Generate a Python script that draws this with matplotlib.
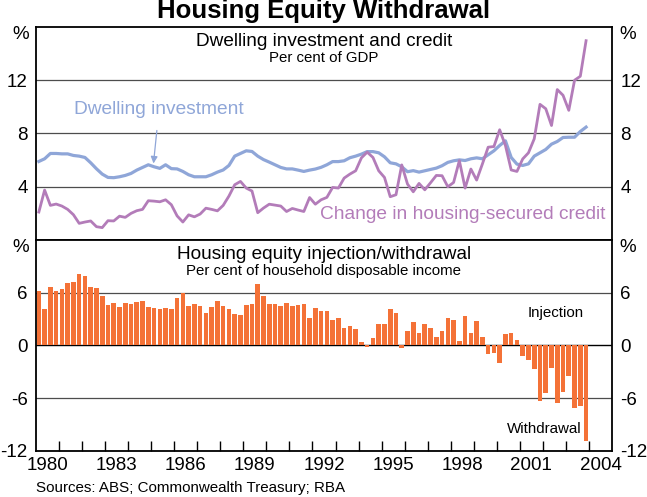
import numpy as np
import matplotlib
matplotlib.use("Agg")
import matplotlib.pyplot as plt
from matplotlib import transforms

plt.rcParams["font.family"] = ["Liberation Sans", "DejaVu Sans"]

# quarterly data, 1980Q1 - 2003Q4
start_year = 1980
n_quarters = 96

dwelling_investment = [
    5.9, 6.1, 6.5, 6.5, 6.47, 6.47, 6.35, 6.3, 6.2, 5.8, 5.35, 4.95,
    4.7, 4.68, 4.75, 4.85, 5.0, 5.25, 5.45, 5.65, 5.5, 5.38, 5.65, 5.36,
    5.34, 5.15, 4.9, 4.75, 4.75, 4.75, 4.9, 5.1, 5.26, 5.6, 6.3, 6.5,
    6.7, 6.65, 6.3, 6.04, 5.85, 5.65, 5.45, 5.34, 5.34, 5.25, 5.15, 5.25,
    5.33, 5.46, 5.65, 5.89, 5.89, 5.95, 6.18, 6.3, 6.45, 6.64, 6.64, 6.55,
    6.25, 5.8, 5.72, 5.5, 5.13, 5.21, 5.1, 5.2, 5.3, 5.4, 5.58, 5.83,
    5.95, 6.02, 5.97, 6.1, 6.17, 6.1, 6.4, 6.7, 7.1, 7.45, 6.2, 5.7,
    5.6, 5.72, 6.3, 6.55, 6.8, 7.2, 7.4, 7.7, 7.72, 7.72, 8.15, 8.48,
]

housing_credit = [
    2.1, 3.75, 2.6, 2.7, 2.55, 2.3, 1.9, 1.25, 1.35, 1.43, 1.0, 0.93,
    1.45, 1.43, 1.79, 1.7, 2.0, 2.2, 2.3, 2.95, 2.92, 2.87, 3.02, 2.65,
    1.81, 1.35, 1.89, 1.74, 1.95, 2.39, 2.3, 2.19, 2.6, 3.3, 4.15, 4.4,
    3.9, 3.68, 2.05, 2.4, 2.69, 2.62, 2.55, 2.14, 2.37, 2.25, 2.14, 3.19,
    2.69, 3.02, 3.2, 3.95, 3.9, 4.65, 4.95, 5.2, 6.17, 6.6, 6.2, 5.2,
    4.7, 3.25, 3.4, 5.64, 4.2, 3.62, 4.25, 3.77, 4.3, 4.85, 4.83, 4.0,
    4.32, 5.96, 3.9, 5.33, 4.5, 5.71, 6.97, 7.02, 8.28, 7.1, 5.26, 5.15,
    6.09, 6.55, 7.6, 10.19, 9.86, 8.6, 11.3, 10.87, 9.74, 12.0, 12.3, 14.97,
]

equity_withdrawal = [
    6.2, 4.1, 6.7, 6.2, 6.45, 7.1, 7.25, 8.15, 7.9, 6.7, 6.55, 5.65,
    4.65, 4.85, 4.4, 4.85, 4.75, 5.0, 5.1, 4.4, 4.3, 4.1, 4.3, 4.2,
    5.4, 6.0, 4.5, 4.75, 4.5, 3.75, 4.4, 5.1, 4.5, 4.1, 3.6, 3.5,
    4.65, 4.75, 7.0, 5.65, 4.75, 4.75, 4.5, 4.85, 4.5, 4.65, 4.75, 3.15,
    4.3, 3.95, 3.95, 2.85, 3.15, 1.95, 2.2, 1.85, 0.35, -0.2, 0.85, 2.4,
    2.5, 4.2, 3.75, -0.3, 1.6, 2.65, 1.4, 2.4, 1.95, 0.95, 1.6, 3.1,
    2.85, 0.5, 3.3, 1.4, 2.75, 0.95, -1.0, -0.85, -2.0, 1.3, 1.45, 0.6,
    -1.2, -1.65, -2.7, -6.3, -5.4, -2.55, -6.5, -5.3, -3.45, -7.1, -6.9, -10.9,
]

year_labels = [1980, 1983, 1986, 1989, 1992, 1995, 1998, 2001, 2004]

BLUE = "#8fa6d8"
PURPLE = "#b37cb9"
ORANGE = "#f47237"
GRID = "#4d4d4d"
TICK_FS = 13.5

x = start_year + np.arange(n_quarters) / 4 + 0.125


def style_panel(ax, ticks, ylim):
    ax.set_xlim(1980, 2005)
    ax.set_ylim(*ylim)
    ax.set_yticks(ticks)
    ax.set_yticklabels([f"{t:g}" for t in ticks])
    ax.tick_params(axis="y", length=0, labelsize=TICK_FS, pad=6,
                   labelleft=True, labelright=True)
    for t in ticks:
        ax.axhline(t, color="black" if t == 0 else GRID,
                   lw=1.0 if t == 0 else 0.9, zorder=0.5)
    for s in ax.spines.values():
        s.set_linewidth(1.3)
    # per cent markers at the top of both axes
    tr_l = transforms.blended_transform_factory(ax.transAxes, ax.transData)
    top = ylim[1] - (ylim[1] - ylim[0]) * 0.035
    ax.text(-0.012, top, "%", transform=tr_l, ha="right", va="center", fontsize=TICK_FS)
    ax.text(1.012, top, "%", transform=tr_l, ha="left", va="center", fontsize=TICK_FS)


fig = plt.figure(figsize=(6.47, 4.97), dpi=100)

# Top panel: dwelling investment and credit
ax1 = fig.add_axes([0.0556, 0.5171, 0.8903, 0.4286])
ax1.plot(x, dwelling_investment, color=BLUE, lw=2.3, solid_joinstyle="round")
ax1.plot(x, housing_credit, color=PURPLE, lw=2.0, solid_joinstyle="round")
style_panel(ax1, [4, 8, 12], (0, 16))
ax1.tick_params(axis="x", length=0, labelbottom=False)

ax1.text(0.5, 0.97, "Dwelling investment and credit", transform=ax1.transAxes,
         ha="center", va="top", fontsize=13.7)
ax1.text(0.5, 0.885, "Per cent of GDP", transform=ax1.transAxes,
         ha="center", va="top", fontsize=10.8)
ax1.annotate("Dwelling investment", xy=(1985.1, 5.75), xytext=(1985.34, 9.8),
             ha="center", va="center", fontsize=13.8, color=BLUE,
             arrowprops=dict(arrowstyle="-|>", color=BLUE, lw=0.9,
                             mutation_scale=10, shrinkA=7, shrinkB=0))
ax1.text(1998.53, 1.9, "Change in housing-secured credit", ha="center",
         va="center", fontsize=13.8, color=PURPLE)

# Bottom panel: housing equity injection/withdrawal
ax2 = fig.add_axes([0.0556, 0.0926, 0.8903, 0.4245])
ax2.bar(x, equity_withdrawal, width=0.2, color=ORANGE, zorder=2)
style_panel(ax2, [-12, -6, 0, 6], (-12, 12))
ax2.set_xticks(np.arange(1981, 2005))
ax2.set_xticks(np.array(year_labels) + 0.5, minor=True)
ax2.set_xticklabels(year_labels, minor=True)
ax2.tick_params(axis="x", which="major", direction="in", length=7,
                width=1.0, labelbottom=False)
ax2.tick_params(axis="x", which="minor", length=0, labelsize=TICK_FS, pad=4)

ax2.text(0.5, 0.97, "Housing equity injection/withdrawal", transform=ax2.transAxes,
         ha="center", va="top", fontsize=13.7)
ax2.text(0.5, 0.885, "Per cent of household disposable income",
         transform=ax2.transAxes, ha="center", va="top", fontsize=10.8)
ax2.text(2002.55, 3.74, "Injection", ha="center", va="center", fontsize=10.9)
ax2.text(2002.07, -9.5, "Withdrawal", ha="center", va="center", fontsize=10.9)

fig.text(0.5, 0.977, "Housing Equity Withdrawal", ha="center", va="center",
         fontsize=18.5, fontweight="bold")
fig.text(0.0556, 0.004, "Sources: ABS; Commonwealth Treasury; RBA",
         ha="left", va="bottom", fontsize=10.9)

fig.savefig("out.png", dpi=100)
plt.close(fig)
